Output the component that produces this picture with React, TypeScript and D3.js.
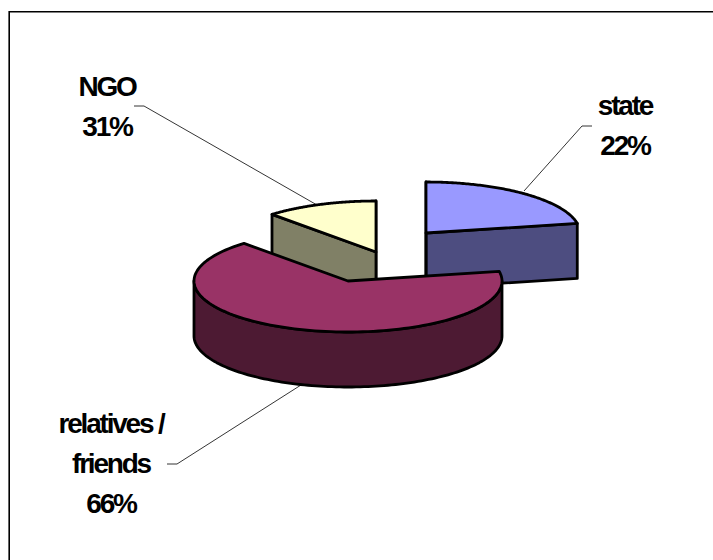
import React from "react";
import * as d3 from "d3";

const categories = ["state", "NGO", "relatives / friends"];
const sliceShares = [22, 11.8, 66.2];
const sliceTopColors = ["#9999ff", "#ffffcc", "#993366"];
const sliceSideColors = ["#4d4d80", "#808066", "#4d1a33"];
const centresX = [426, 376, 348];
const centresY = [233, 252, 281];
const labelLines = [["state", "22%"], ["NGO", "31%"], ["relatives /", "friends", "66%"]];
const labelX = [625, 107, 111];
const labelY = [115, 96, 433];
const leaders = [
  [[592, 126], [582, 126], [524, 191]],
  [[134, 106], [144, 106], [317, 205]],
  [[167, 464], [177, 464], [301, 385]],
];

const RX = 154, RY = 51, DEPTH = 55;

export default function App() {
  const pie = d3.pie<number>().sort(null).startAngle(0).endAngle(2 * Math.PI);
  const arcs = pie(sliceShares);
  const toParam = d3.scaleLinear().domain([0, 2 * Math.PI]).range([10.8 * Math.PI / 180, (10.8 + 360) * Math.PI / 180]);
  const line = d3.line<[number, number]>();
  const pt = (i: number, t: number, dz = 0): [number, number] => [
    centresX[i] + RX * Math.cos(t),
    centresY[i] - RY * Math.sin(t) + dz,
  ];
  const samples = (a: number, b: number) => d3.range(0, 121).map((k) => a + ((b - a) * k) / 120);
  return (
    <svg width={713} height={560} style={{ position: "absolute", left: 0, top: 0, fontFamily: "'Liberation Sans', Arial, sans-serif" }}>
      <path d="M9.2 560V11.8H713" fill="none" stroke="#000" strokeWidth={1.6} />
      {leaders.map((l, i) => (
        <path key={i} d={line(l as [number, number][]) ?? ""} fill="none" stroke="#000" strokeWidth={0.8} />
      ))}
      {[0, 1, 2].map((i) => {
        const a0 = toParam(arcs[i].startAngle);
        const a1 = toParam(arcs[i].endAngle);
        const apex: [number, number] = [centresX[i], centresY[i]];
        const apexB: [number, number] = [apex[0], apex[1] + DEPTH];
        const topPts = samples(a0, a1).map((t) => pt(i, t));
        const topPath = line([apex, ...topPts]) + "Z";
        let sides: string[] = [];
        if (i < 2) {
          sides = [a0, a1].map((a) => line([apex, pt(i, a), pt(i, a, DEPTH), apexB]) + "Z");
        } else {
          const wall = samples(Math.PI, 2 * Math.PI);
          const outer = [...wall.map((t) => pt(i, t)), ...wall.slice().reverse().map((t) => pt(i, t, DEPTH))];
          sides = [line(outer) + "Z"];
        }
        return (
          <g key={categories[i]} stroke="#000" strokeWidth={2.8} strokeLinejoin="round">
            {sides.map((d, k) => (
              <path key={k} d={d} fill={sliceSideColors[i]} />
            ))}
            <path d={topPath} fill={sliceTopColors[i]} />
          </g>
        );
      })}
      {labelLines.map((ls, i) => (
        <text key={i} textAnchor="middle" fontWeight="bold" fontSize={28} letterSpacing={-2.2} fill="#000">
          {ls.map((s, k) => (
            <tspan key={k} x={labelX[i]} y={labelY[i] + k * 40}>{s}</tspan>
          ))}
        </text>
      ))}
    </svg>
  );
}
